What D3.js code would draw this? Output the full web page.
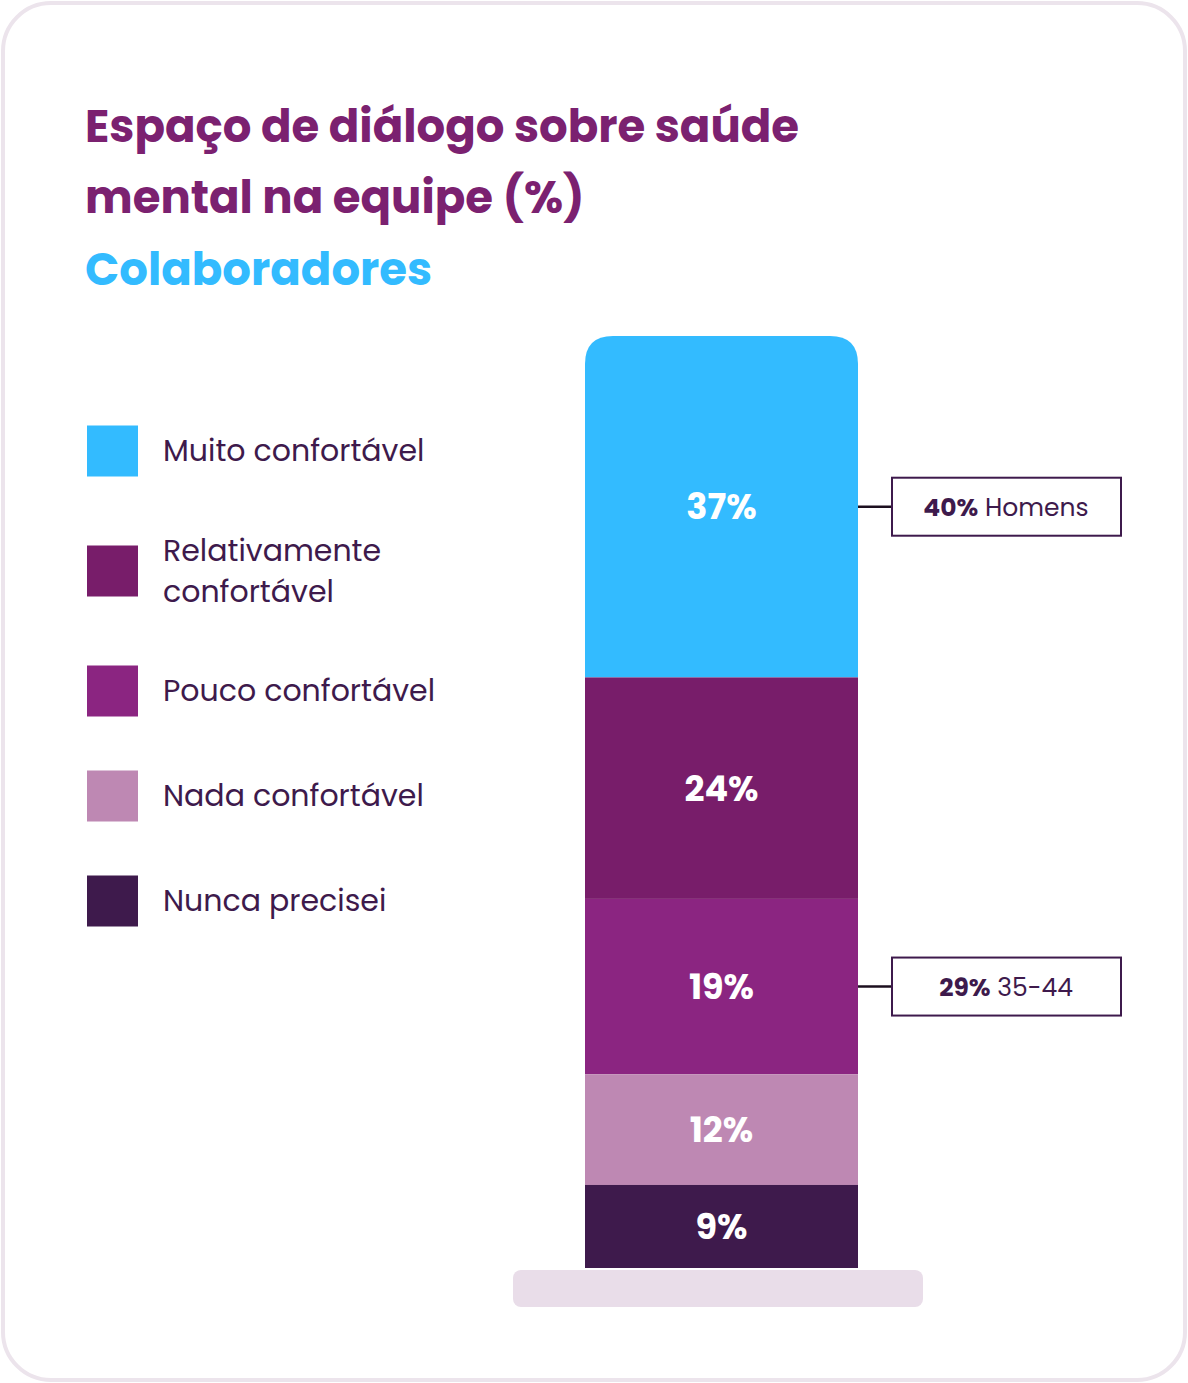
<!DOCTYPE html>
<meta charset="utf-8">
<head>
<style>
  body { margin:0; background:#fff; }
  text { font-family: "Poppins", "Inter", "Open Sans", sans-serif; }
</style>
</head>
<body>
<div id="chart"></div>
<script src="https://d3js.org/d3.v7.min.js"></script>
<script>

var categories = ["Muito confortável", "Relativamente confortável", "Pouco confortável", "Nada confortável", "Nunca precisei"];
var values = [37, 24, 19, 12, 9];
var colors = ["#33bbff", "#781d6a", "#8b2581", "#be88b3", "#3e1a4c"];
var callouts = [
  {cat: "Muito confortável", bold: "40%", rest: " Homens"},
  {cat: "Pouco confortável", bold: "29%", rest: " 35-44"}
];

var W = 1188, H = 1383;
var svg = d3.select("#chart").append("svg").attr("width", W).attr("height", H);

svg.append("rect").attr("x", 3).attr("y", 3).attr("width", W - 6).attr("height", H - 6)
  .attr("rx", 48).attr("fill", "#fff").attr("stroke", "#ece4ec").attr("stroke-width", 4);

svg.append("text").attr("x", 85).attr("y", 142).attr("font-size", 45).attr("font-weight", 700)
  .attr("fill", "#7b2170").text("Espaço de diálogo sobre saúde");
svg.append("text").attr("x", 85).attr("y", 213).attr("font-size", 45).attr("font-weight", 700)
  .attr("fill", "#7b2170").text("mental na equipe (%)");
svg.append("text").attr("x", 85).attr("y", 285).attr("font-size", 45).attr("font-weight", 700)
  .attr("fill", "#33bbff").text("Colaboradores");

// stacked data
var stack = [], acc = 0;
values.slice().reverse().forEach(function(v, i){
  var idx = values.length - 1 - i;
  stack[idx] = {cat: categories[idx], v: v, y0: acc, y1: acc + v, color: colors[idx]};
  acc += v;
});
var total = acc;
var y = d3.scaleLinear().domain([0, total]).range([1268, 336]);
var x = d3.scaleBand().domain(["all"]).range([585, 858]);

// base platform
svg.append("rect").attr("x", 513).attr("y", 1270).attr("width", 410).attr("height", 37)
  .attr("rx", 8).attr("fill", "#e9dde9");

var clip = svg.append("clipPath").attr("id", "barclip");
clip.append("path").attr("d", function(){
  var x0 = x("all"), x1 = x0 + x.bandwidth(), t = y(total), b = y(0), r = 28;
  return "M" + x0 + "," + b + "V" + (t + r) + "Q" + x0 + "," + t + " " + (x0 + r) + "," + t +
    "H" + (x1 - r) + "Q" + x1 + "," + t + " " + x1 + "," + (t + r) + "V" + b + "Z";
});

var g = svg.append("g").attr("clip-path", "url(#barclip)");
g.selectAll("rect").data(stack).enter().append("rect")
  .attr("x", x("all")).attr("width", x.bandwidth())
  .attr("y", function(d){ return y(d.y1); })
  .attr("height", function(d){ return y(d.y0) - y(d.y1); })
  .attr("fill", function(d){ return d.color; });

svg.selectAll(".val").data(stack).enter().append("text")
  .attr("x", x("all") + x.bandwidth() / 2)
  .attr("y", function(d){ return (y(d.y0) + y(d.y1)) / 2; })
  .attr("dy", "0.36em").attr("text-anchor", "middle")
  .attr("font-size", 35).attr("font-weight", 700).attr("fill", "#fff")
  .text(function(d){ return d.v + "%"; });

// legend
var legY = [451, 571, 691, 796, 901];
var leg = svg.selectAll(".leg").data(categories).enter().append("g")
  .attr("transform", function(d, i){ return "translate(87," + legY[i] + ")"; });
leg.append("rect").attr("x", 0).attr("y", -25.5).attr("width", 51).attr("height", 51)
  .attr("fill", function(d, i){ return colors[i]; });
leg.each(function(d){
  var t = d3.select(this).append("text").attr("x", 76).attr("font-size", 30).attr("fill", "#3e1a4c");
  if (d === "Relativamente confortável") {
    t.append("tspan").attr("x", 76).attr("y", -10).text("Relativamente");
    t.append("tspan").attr("x", 76).attr("y", 31).text("confortável");
  } else {
    t.attr("y", 10).text(d);
  }
});

// callouts
callouts.forEach(function(c){
  var s = stack[categories.indexOf(c.cat)];
  var cy = (y(s.y0) + y(s.y1)) / 2;
  svg.append("line").attr("x1", 858).attr("x2", 892).attr("y1", cy).attr("y2", cy)
    .attr("stroke", "#1c0f1f").attr("stroke-width", 2.5);
  svg.append("rect").attr("x", 892).attr("y", cy - 29).attr("width", 229).attr("height", 58)
    .attr("fill", "#fff").attr("stroke", "#3e1a4c").attr("stroke-width", 2);
  var t = svg.append("text").attr("x", 1006).attr("y", cy).attr("dy", "0.36em")
    .attr("text-anchor", "middle").attr("font-size", 25).attr("fill", "#3e1a4c");
  t.append("tspan").attr("font-weight", 700).text(c.bold);
  t.append("tspan").text(c.rest);
});
</script>
</body>
</html>
